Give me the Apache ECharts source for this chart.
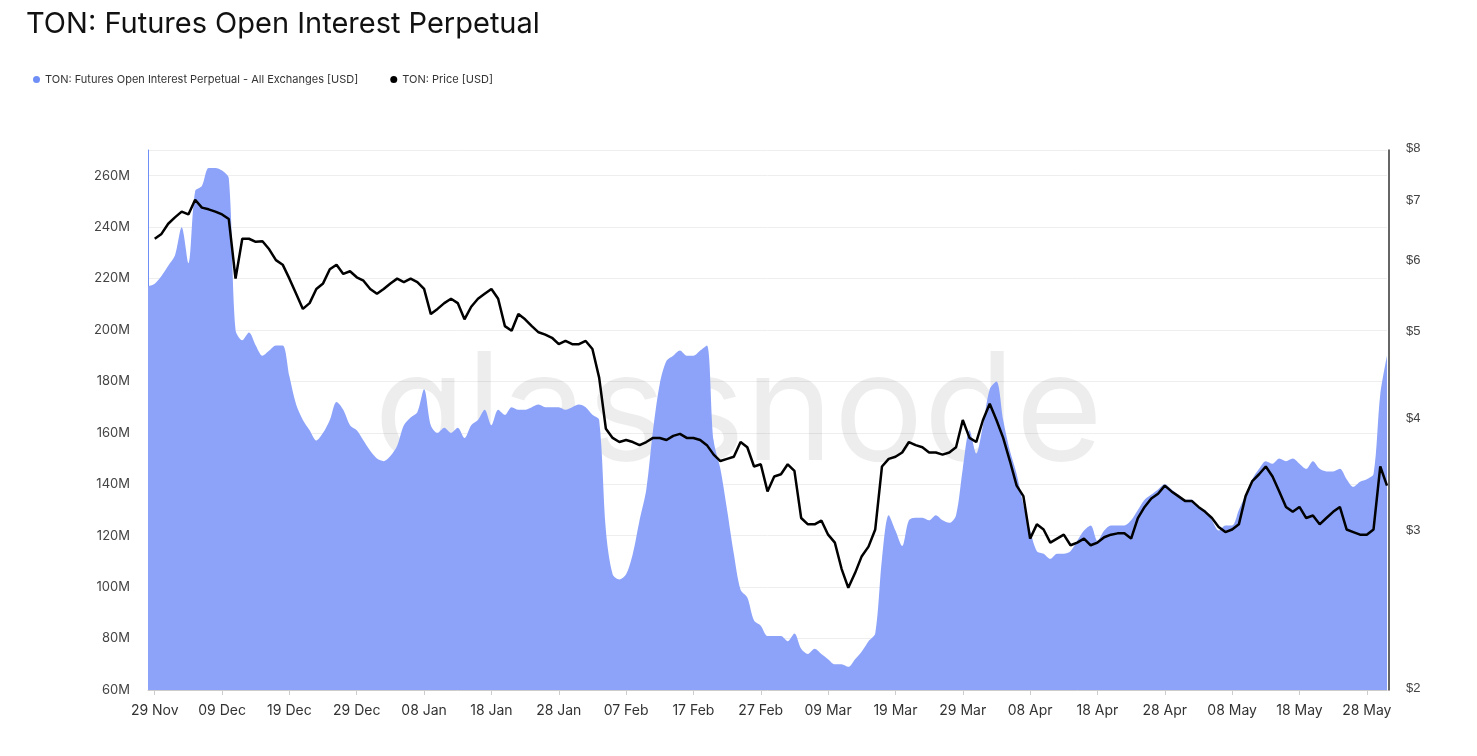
<!DOCTYPE html>
<html>
<head>
<meta charset="utf-8">
<script src="https://cdn.jsdelivr.net/npm/echarts@6/dist/echarts.min.js"></script>
<style>
  html, body { margin: 0; padding: 0; background: #fff; }
  #chart { width: 1477px; height: 756px; }
</style>
</head>
<body>
<div id="chart"></div>
<script>
// daily values starting 28 Nov 2023
const startDate = '2023-11-28';

// open interest in millions USD
const openInterest = [
    217,
    218, 221, 225, 229, 240, 226, 254, 256, 263, 263,
    262, 259, 200, 196, 199, 194, 190, 192, 194, 194,
    182, 171, 165, 161, 157, 160, 165, 172, 169, 163,
    161, 157, 153, 150, 149, 151, 155, 163, 166, 168,
    177, 163, 160, 162, 160, 162, 158, 163, 165, 169,
    163, 169, 167, 170, 169, 169, 170, 171, 170, 170,
    170, 169, 170, 171, 170, 167, 165, 122, 105, 103,
    105, 113, 126, 138, 161, 179, 188, 190, 192, 190,
    190, 192, 194, 157, 146, 130, 113, 99, 96, 87,
    85, 81, 81, 81, 79, 82, 76, 74, 76, 74,
    72, 70, 70, 69, 72, 75, 79, 82, 111, 128,
    122, 116, 126, 127, 127, 126, 128, 126, 125, 128,
    146, 161, 152, 163, 177, 180, 165, 153, 144, 132,
    122, 114, 113, 111, 113, 113, 114, 118, 122, 124,
    118, 122, 124, 124, 124, 126, 130, 134, 136, 138,
    140, 138, 136, 134, 134, 131, 130, 126, 122, 124,
    124, 130, 136, 142, 146, 149, 148, 150, 149, 150,
    148, 146, 149, 146, 145, 145, 146, 142, 139, 141,
    142, 144, 175, 190
];

// price in USD
const price = [
    null,
    6.37, 6.45, 6.62, 6.73, 6.83, 6.78, 7.04, 6.90, 6.87, 6.83,
    6.78, 6.70, 5.75, 6.37, 6.37, 6.32, 6.33, 6.20, 6.03, 5.96,
    5.75, 5.53, 5.32, 5.40, 5.60, 5.68, 5.89, 5.96, 5.82, 5.86,
    5.77, 5.72, 5.60, 5.53, 5.60, 5.68, 5.75, 5.70, 5.75, 5.70,
    5.60, 5.25, 5.32, 5.40, 5.46, 5.40, 5.18, 5.35, 5.46, 5.53,
    5.60, 5.46, 5.09, 5.03, 5.25, 5.18, 5.09, 5.01, 4.98, 4.94,
    4.86, 4.90, 4.86, 4.86, 4.90, 4.80, 4.46, 3.91, 3.82, 3.78,
    3.80, 3.78, 3.75, 3.78, 3.82, 3.82, 3.80, 3.84, 3.86, 3.82,
    3.82, 3.80, 3.75, 3.66, 3.60, 3.62, 3.64, 3.78, 3.73, 3.55,
    3.57, 3.33, 3.46, 3.48, 3.57, 3.51, 3.11, 3.06, 3.06, 3.09,
    2.98, 2.92, 2.73, 2.60, 2.70, 2.82, 2.89, 3.02, 3.55, 3.62,
    3.64, 3.68, 3.78, 3.75, 3.73, 3.68, 3.68, 3.66, 3.68, 3.73,
    4.00, 3.82, 3.78, 4.00, 4.17, 4.00, 3.82, 3.60, 3.38, 3.29,
    2.95, 3.06, 3.02, 2.92, 2.95, 2.98, 2.90, 2.92, 2.95, 2.90,
    2.92, 2.96, 2.98, 2.99, 2.99, 2.95, 3.11, 3.20, 3.27, 3.31,
    3.38, 3.33, 3.29, 3.25, 3.25, 3.20, 3.16, 3.11, 3.04, 3.00,
    3.02, 3.06, 3.29, 3.42, 3.48, 3.55, 3.46, 3.33, 3.20, 3.16,
    3.20, 3.11, 3.13, 3.06, 3.11, 3.16, 3.20, 3.02, 3.00, 2.98,
    2.98, 3.02, 3.55, 3.38
];

// x tick labels as printed, one every 10 days from index 1
const xTickLabels = ['29 Nov', '09 Dec', '19 Dec', '29 Dec', '08 Jan', '18 Jan', '28 Jan', '07 Feb',
    '17 Feb', '27 Feb', '09 Mar', '19 Mar', '29 Mar', '08 Apr', '18 Apr', '28 Apr', '08 May', '18 May', '28 May'];

const priceTicks = [2, 3, 4, 5, 6, 7, 8];

const dates = openInterest.map((v, i) => {
    const d = new Date(new Date(startDate + 'T00:00:00Z').getTime() + i * 86400000);
    return d.toISOString().slice(0, 10);
});
const showLabel = (i) => i > 0 && (i - 1) % 10 === 0;

const chart = echarts.init(document.getElementById('chart'));
chart.setOption({
    animation: false,
    textStyle: { fontFamily: 'Inter, "Noto Sans", sans-serif' },
    title: {
        text: 'TON: Futures Open Interest Perpetual',
        left: 21, top: 5,
        textStyle: { fontSize: 29, fontWeight: 'normal', color: '#111' },
    },
    legend: {
        left: 28, top: 69,
        itemWidth: 7, itemHeight: 7, itemGap: 32,
        icon: 'circle',
        textStyle: { fontSize: 11, color: '#333' },
        data: [
            { name: 'TON: Futures Open Interest Perpetual - All Exchanges [USD]', itemStyle: { color: '#6f8ff7' } },
            { name: 'TON: Price [USD]', itemStyle: { color: '#000' } },
        ],
    },
    grid: { left: 148, right: 90, top: 150, bottom: 66 },
    xAxis: {
        type: 'category', data: dates, boundaryGap: false,
        axisLine: { lineStyle: { color: '#ccc' } },
        axisTick: { interval: (i) => showLabel(i), lineStyle: { color: '#ccc' } },
        axisLabel: {
            interval: (i) => showLabel(i), color: '#333', fontSize: 14, margin: 14,
            formatter: (v, i) => xTickLabels[(i - 1) / 10] || '',
        },
    },
    yAxis: [{
        type: 'value', min: 60e6, max: 270e6, interval: 20e6, position: 'left',
        axisLine: { show: true, lineStyle: { color: '#6f8ff7' } },
        axisLabel: { color: '#444', fontSize: 13, margin: 18, formatter: (v) => v % 20e6 === 0 ? (v / 1e6) + 'M' : '' },
        splitLine: { lineStyle: { color: '#eee' } },
    }, {
        type: 'log', logBase: 2, min: 2, max: 8, position: 'right', offset: 2,
        axisLine: { show: true, lineStyle: { color: '#333', width: 1.5 } },
        axisTick: { show: false },
        axisLabel: { show: false },
        splitLine: { show: false },
    }],
    series: [{
        name: 'TON: Futures Open Interest Perpetual - All Exchanges [USD]',
        type: 'line', yAxisIndex: 0, smooth: 0.3, symbol: 'none',
        data: openInterest.map(v => v * 1e6),
        lineStyle: { width: 0 },
        areaStyle: { color: '#8ca3f9', opacity: 1 },
        itemStyle: { color: '#6f8ff7' },
        z: 1,
    }, {
        name: 'TON: Price [USD]',
        type: 'line', yAxisIndex: 1, symbol: 'none',
        data: price,
        lineStyle: { color: '#000', width: 2.5 },
        itemStyle: { color: '#000' },
        z: 3,
    }],
});

// right-hand price labels, placed through the log axis
const labels = priceTicks.map(p => {
    const y = chart.convertToPixel({ yAxisIndex: 1 }, p);
    return { type: 'text', left: 1406, top: y - 8, style: { text: '$' + p, fontSize: 13, fill: '#444' } };
});
chart.setOption({ graphic: [{
    type: 'text', left: 'center', top: 340,
    style: { text: 'glassnode', fontSize: 150, fill: 'rgba(0,0,0,0.07)', fontFamily: 'Inter, sans-serif' },
    z: 0,
}].concat(labels) });
</script>
</body>
</html>
